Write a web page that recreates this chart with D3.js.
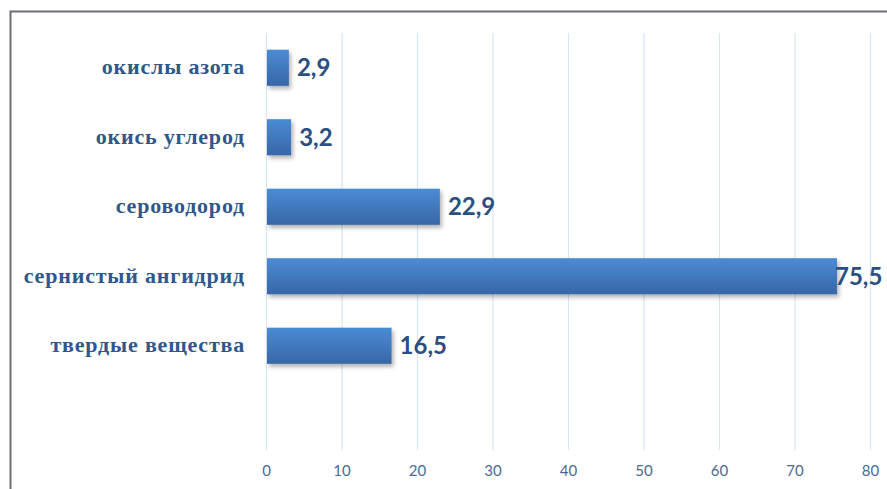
<!DOCTYPE html>
<html><head><meta charset="utf-8">
<script src="https://cdn.jsdelivr.net/npm/d3@7"></script>
<style>body{margin:0;background:#fff;}svg{display:block;}</style>
</head><body>
<script>
const categories = ["окислы азота","окись углерод","сероводород","сернистый ангидрид","твердые вещества"];
const values = [2.9, 3.2, 22.9, 75.5, 16.5];
const valueLabels = ["2,9","3,2","22,9","75,5","16,5"];
const tickValues = [0,10,20,30,40,50,60,70,80];

const W = 887, H = 489;
const svg = d3.select("body").append("svg").attr("width", W).attr("height", H);
const defs = svg.append("defs");
const grad = defs.append("linearGradient").attr("id","bg").attr("x1",0).attr("y1",0).attr("x2",0).attr("y2",1);
grad.append("stop").attr("offset","0%").attr("stop-color","#4b8bd6");
grad.append("stop").attr("offset","100%").attr("stop-color","#3767a6");
const flt = defs.append("filter").attr("id","sh").attr("x","-10%").attr("y","-20%").attr("width","130%").attr("height","160%");
flt.append("feDropShadow").attr("dx",2).attr("dy",3).attr("stdDeviation",2).attr("flood-color","#000").attr("flood-opacity",0.3);

// frame
svg.append("path").attr("d","M10.5,489 V11.5 H887").attr("fill","none").attr("stroke","#6a6e75").attr("stroke-width",2);

const x = d3.scaleLinear().domain([0,80]).range([266,870]);
const y = d3.scaleBand().domain(categories).range([33, 33+69.5*5]).paddingInner(0.48).paddingOuter(0.24);
const gridBottom = 450;

// grid
svg.append("g").selectAll("line").data(tickValues).join("line")
  .attr("x1",d=>x(d)+0.5).attr("x2",d=>x(d)+0.5).attr("y1",33).attr("y2",gridBottom)
  .attr("stroke","#dbe5f1").attr("stroke-width",1.2);

// x axis labels
const xAxis = d3.axisBottom(x).tickValues(tickValues).tickSize(0).tickPadding(0).tickFormat(d3.format("d"));
const gx = svg.append("g").attr("transform",`translate(0,${gridBottom+15})`).call(xAxis);
gx.select(".domain").remove();
gx.selectAll("text").attr("fill","#4a6a94").style("font-family","Lato, 'Open Sans', sans-serif").style("font-size","15px");

// y labels
const yAxis = d3.axisLeft(y).tickSize(0).tickPadding(0);
const gy = svg.append("g").attr("transform","translate(245,0)").call(yAxis);
gy.select(".domain").remove();
gy.selectAll("text").attr("fill","#2f578c").style("font-family","'Liberation Serif','DejaVu Serif',serif")
  .style("font-weight","bold").style("font-size","22px").style("letter-spacing","0.8px").attr("dy","0.3em");

// bars
svg.append("g").selectAll("rect").data(categories).join("rect")
  .attr("x",x(0)+1).attr("y",d=>y(d)).attr("height",y.bandwidth())
  .attr("width",(d,i)=>x(values[i])-x(0)).attr("fill","url(#bg)").attr("filter","url(#sh)");

// value labels
svg.append("g").selectAll("text").data(categories).join("text")
  .attr("x",(d,i)=>Math.min(x(values[i])+9, 835))
  .attr("y",d=>y(d)+y.bandwidth()/2).attr("dy","0.36em")
  .attr("fill","#2b4f80").style("font-family","Lato, 'Open Sans', sans-serif")
  .style("font-weight","bold").style("font-size","24px")
  .text((d,i)=>valueLabels[i]);
</script>
</body></html>
